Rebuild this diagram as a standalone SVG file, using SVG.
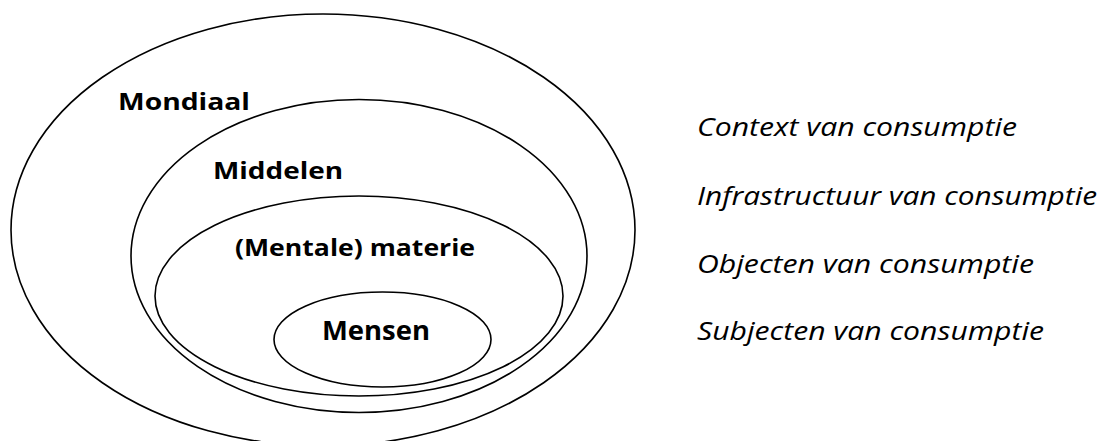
<svg xmlns="http://www.w3.org/2000/svg" width="1103" height="441" viewBox="0 0 1103 441">
<style>
.ring{fill:none;stroke:#000;stroke-width:1.6}
.lbl{font-family:"Open Sans","Noto Sans","Liberation Sans",sans-serif;font-weight:bold;fill:#000}
.side{font-family:"Open Sans","Noto Sans","Liberation Sans",sans-serif;font-style:italic;font-size:25px;fill:#000}
</style>
<rect width="1103" height="441" fill="#fff"/>
<g id="mondiaal">
<ellipse class="ring" cx="323" cy="230" rx="312" ry="216"/>
<text class="lbl" x="118" y="110" font-size="24" textLength="132" lengthAdjust="spacingAndGlyphs">Mondiaal</text>
</g>
<g id="middelen">
<ellipse class="ring" cx="359" cy="256" rx="228" ry="156.5"/>
<text class="lbl" x="213" y="179" font-size="24" textLength="130" lengthAdjust="spacingAndGlyphs">Middelen</text>
</g>
<g id="materie">
<ellipse class="ring" cx="359" cy="296" rx="204" ry="100"/>
<text class="lbl" x="235" y="256" font-size="24" textLength="240" lengthAdjust="spacingAndGlyphs">(Mentale) materie</text>
</g>
<g id="mensen">
<ellipse class="ring" cx="382.5" cy="339.5" rx="108.5" ry="47.5"/>
<text class="lbl" x="322" y="340" font-size="26" textLength="108" lengthAdjust="spacingAndGlyphs">Mensen</text>
</g>
<g id="legend">
<text class="side" x="697" y="136" textLength="320" lengthAdjust="spacingAndGlyphs">Context van consumptie</text>
<text class="side" x="697" y="205" textLength="400" lengthAdjust="spacingAndGlyphs">Infrastructuur van consumptie</text>
<text class="side" x="697" y="273" textLength="337" lengthAdjust="spacingAndGlyphs">Objecten van consumptie</text>
<text class="side" x="697" y="340" textLength="347" lengthAdjust="spacingAndGlyphs">Subjecten van consumptie</text>
</g>
<g id="connectors"></g>
</svg>
